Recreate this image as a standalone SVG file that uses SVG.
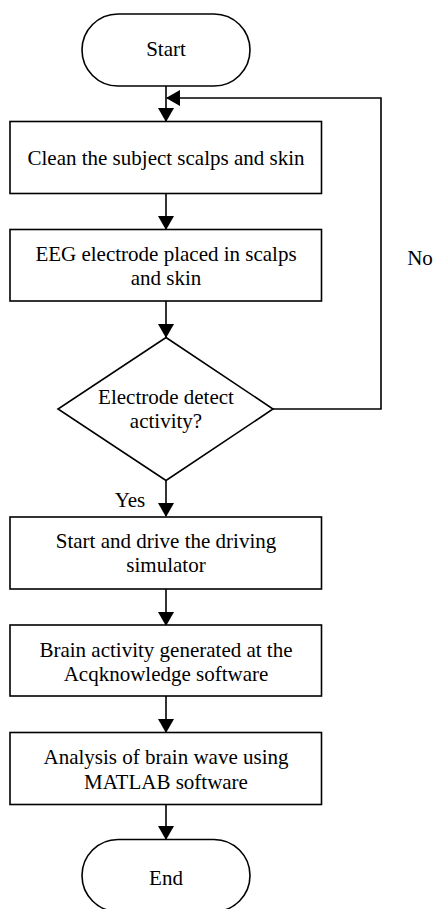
<svg xmlns="http://www.w3.org/2000/svg" width="435" height="909" viewBox="0 0 435 909">
<style>
.s{fill:#fff;stroke:#000;stroke-width:1.6}
.t{font-size:21px;fill:#000;text-anchor:middle}
.l{fill:none;stroke:#000;stroke-width:1.6}
</style>
<defs>
<marker id="a" markerUnits="userSpaceOnUse" markerWidth="16" markerHeight="16" viewBox="0 0 16 16" refX="14" refY="8" orient="auto">
<path d="M1,0 L15,8 L1,16 Z" fill="#000"/>
</marker>
</defs>
<rect width="435" height="909" fill="#fff"/>
<g font-family="Liberation Serif, Times New Roman, serif">
<g id="connectors">
<path class="l" d="M166,86 V121" marker-end="url(#a)"/>
<path class="l" d="M166,193.5 V229" marker-end="url(#a)"/>
<path class="l" d="M166,301 V337" marker-end="url(#a)"/>
<path class="l" d="M273,409 H381 V98 H167" marker-end="url(#a)"/>
<path class="l" d="M166,481 V516" marker-end="url(#a)"/>
<path class="l" d="M166,589 V625" marker-end="url(#a)"/>
<path class="l" d="M166,696 V732" marker-end="url(#a)"/>
<path class="l" d="M166,804 V839" marker-end="url(#a)"/>
<text class="t" x="420" y="265">No</text>
<text class="t" x="130" y="507">Yes</text>
</g>
<g id="start">
<rect class="s" x="82" y="14" width="168" height="72" rx="36"/>
<text class="t" x="166" y="56">Start</text>
</g>
<g id="clean">
<rect class="s" x="10" y="121.5" width="311.5" height="72"/>
<text class="t" x="166" y="165">Clean the subject scalps and skin</text>
</g>
<g id="electrode">
<rect class="s" x="10" y="229.5" width="311.5" height="71.5"/>
<text class="t" x="166" y="261">EEG electrode placed in scalps</text>
<text class="t" x="166" y="285">and skin</text>
</g>
<g id="decision">
<polygon class="s" points="166,337.5 273,409 166,480.5 58,409"/>
<text class="t" x="166" y="404">Electrode detect</text>
<text class="t" x="166" y="428">activity?</text>
</g>
<g id="drive">
<rect class="s" x="10" y="517" width="311.5" height="72"/>
<text class="t" x="166" y="548">Start and drive the driving</text>
<text class="t" x="166" y="572">simulator</text>
</g>
<g id="brain">
<rect class="s" x="10" y="625" width="311.5" height="71"/>
<text class="t" x="166" y="657">Brain activity generated at the</text>
<text class="t" x="166" y="681">Acqknowledge software</text>
</g>
<g id="analysis">
<rect class="s" x="10" y="732.5" width="311.5" height="72"/>
<text class="t" x="166" y="764">Analysis of brain wave using</text>
<text class="t" x="166" y="789">MATLAB software</text>
</g>
<g id="end">
<rect class="s" x="82" y="839.5" width="168" height="72" rx="36"/>
<text class="t" x="166" y="885">End</text>
</g>
</g>
</svg>
